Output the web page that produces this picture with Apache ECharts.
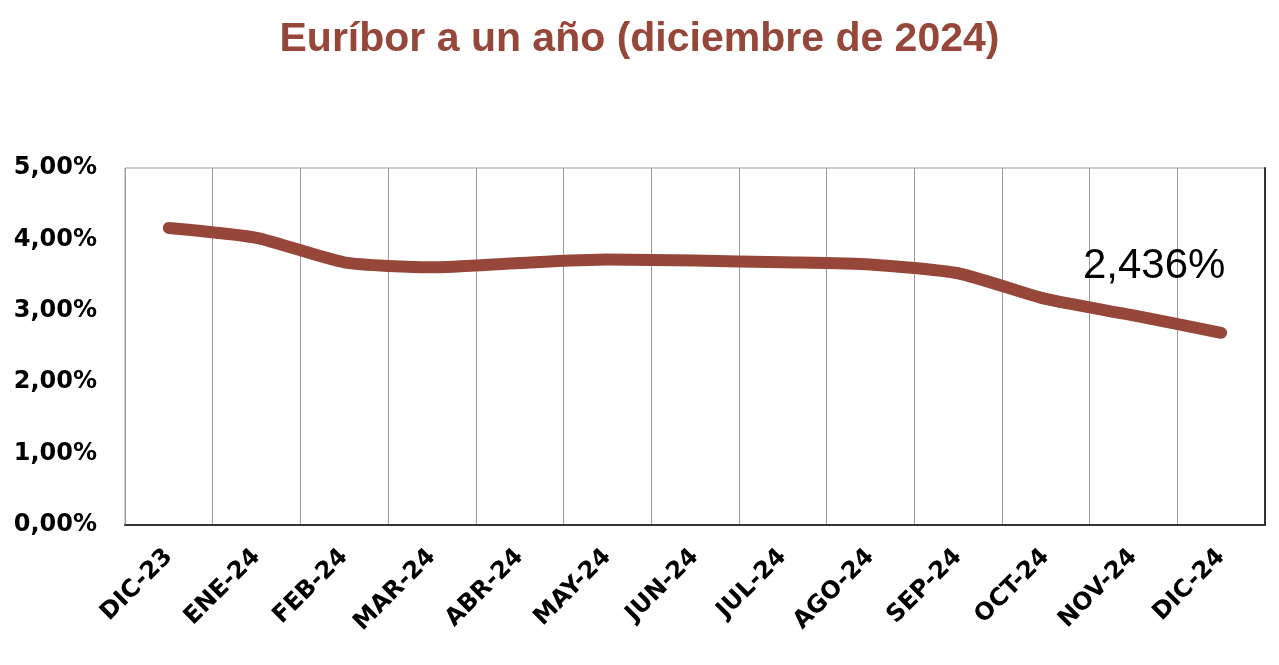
<!DOCTYPE html>
<html>
<head>
<meta charset="utf-8">
<script src="https://cdn.jsdelivr.net/npm/echarts@6/dist/echarts.min.js"></script>
<style>
html,body{margin:0;padding:0;background:#fff;}
#chart{width:1279px;height:665px;}
</style>
</head>
<body>
<div id="chart"></div>
<script>
const titleText = 'Euríbor a un año (diciembre de 2024)';
const categories = ['DIC-23','ENE-24','FEB-24','MAR-24','ABR-24','MAY-24','JUN-24','JUL-24','AGO-24','SEP-24','OCT-24','NOV-24','DIC-24'];
const values = [4.160, 4.022, 3.679, 3.609, 3.671, 3.718, 3.703, 3.680, 3.650, 3.526, 3.166, 2.936, 2.691];
const lastLabel = '2,436%';
const yTicks = [0, 1, 2, 3, 4, 5];

const brown = '#96473a';
const axisFont = 'DejaVu Sans';

const seriesData = values.map((v, i) => i === values.length - 1
  ? { value: v, label: { show: true, formatter: lastLabel, position: 'inside', offset: [-67, -66],
      fontFamily: 'Liberation Sans', fontSize: 42, color: '#000' } }
  : v);

const chart = echarts.init(document.getElementById('chart'), null, { renderer: 'canvas' });
chart.setOption({
  backgroundColor: '#fff',
  animation: false,
  title: {
    text: titleText,
    left: 'center',
    top: 14,
    textStyle: { fontFamily: 'Liberation Sans', fontWeight: 'bold', fontSize: 41, color: brown }
  },
  grid: { left: 125, right: 14, top: 168, bottom: 140, show: true, borderColor: '#9a9a9a', borderWidth: 1 },
  xAxis: {
    type: 'category',
    data: categories,
    boundaryGap: true,
    axisLine: { show: true, lineStyle: { color: '#333', width: 2 } },
    axisTick: { show: false },
    splitLine: { show: true, lineStyle: { color: '#9a9a9a', width: 1 } },
    axisLabel: { rotate: 45, margin: 28, fontFamily: axisFont, fontWeight: 'bold', fontSize: 24, color: '#000', interval: 0 }
  },
  yAxis: [{
    type: 'value',
    min: yTicks[0],
    max: yTicks[yTicks.length - 1],
    interval: 1,
    axisLine: { show: false },
    axisTick: { show: false },
    splitLine: { show: false },
    axisLabel: { margin: 28, fontFamily: axisFont, fontWeight: 'bold', fontSize: 24, color: '#000',
      formatter: v => v.toFixed(2).replace('.', ',') + '%' }
  }, {
    type: 'value',
    position: 'right',
    min: yTicks[0],
    max: yTicks[yTicks.length - 1],
    interval: 1,
    axisLine: { show: true, lineStyle: { color: '#333', width: 2 } },
    axisTick: { show: false },
    axisLabel: { show: false },
    splitLine: { show: false }
  }],
  series: [{
    type: 'line',
    data: seriesData,
    smooth: 0.2,
    symbol: 'circle',
    symbolSize: 1,
    showSymbol: true,
    itemStyle: { color: brown },
    lineStyle: { color: brown, width: 12, cap: 'round', join: 'round' },
    emphasis: { disabled: true }
  }]
});
</script>
</body>
</html>
